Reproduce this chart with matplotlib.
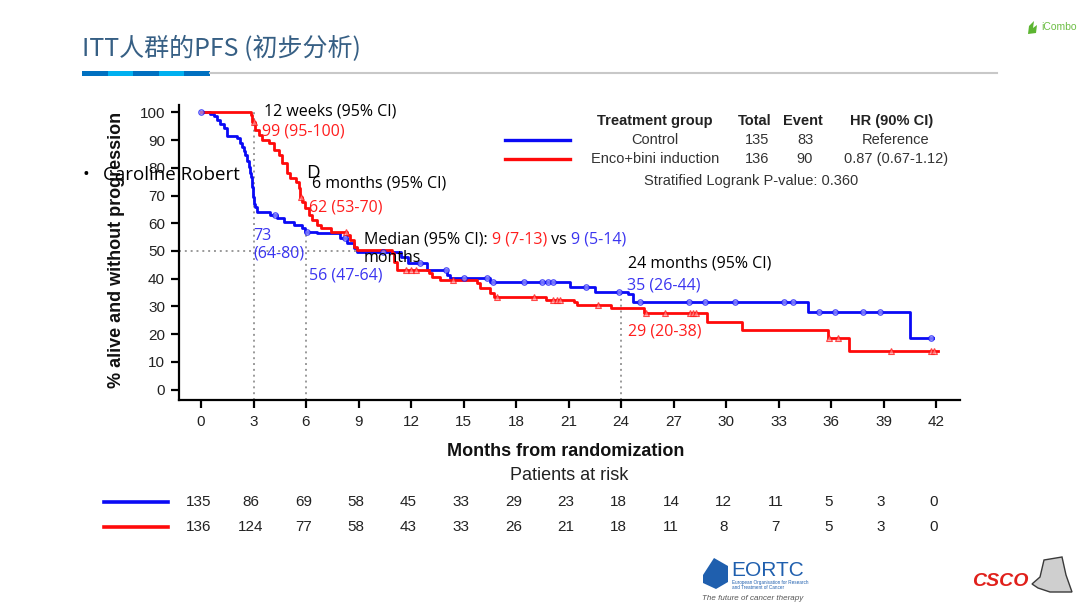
import numpy as np
import matplotlib
matplotlib.use('Agg')
import matplotlib.pyplot as plt
from matplotlib.transforms import blended_transform_factory
from matplotlib.patches import Rectangle, Polygon
from matplotlib.lines import Line2D

# ---------------- data ----------------
ctrl_t = [0, 0.3, 0.54, 0.75, 0.92, 1.1, 1.3, 1.5, 2.07, 2.2, 2.35, 2.45, 2.54, 2.65, 2.73, 2.8,
          2.86, 2.92, 2.97, 3.02, 3.1, 3.2, 3.97, 4.35, 4.73, 5.3, 5.78, 5.97, 6.64, 7.97, 8.35,
          8.73, 8.92, 11.4, 11.8, 12.9, 14.06, 14.25, 16.5, 21.1, 22.5, 24.4, 24.7, 34.7, 40.5, 41.8]
ctrl_s = [100, 100, 99.3, 98.5, 97.2, 95.9, 94.2, 91.5, 90.6, 89, 87.6, 86, 84.6, 82.5, 80.4, 78,
          76.8, 73, 69.6, 67, 66, 64.2, 63, 61.8, 60.6, 59.4, 58.2, 57, 56.4, 54.6, 52.8,
          51, 49.8, 48, 45.6, 43.2, 41.4, 40.2, 38.9, 37.1, 35.3, 34.4, 31.7, 28.1, 18.7, 18.7]

enco_t = [0, 2.83, 2.92, 3.11, 3.3, 3.5, 3.87, 4.16, 4.44, 4.64, 4.92, 5.11, 5.4, 5.59, 5.68, 5.78,
          5.97, 6.16, 6.35, 6.64, 6.83, 7.4, 8.35, 8.54, 8.73, 8.92, 10.9, 11.0, 11.2, 13.0, 13.2,
          13.68, 15.77, 15.96, 16.53, 16.72, 19.7, 21.3, 21.5, 23.4, 25.3, 28.9, 30.9, 35.8, 37.0, 42.1]
enco_s = [100, 99, 96.6, 93.6, 91.8, 90, 88.8, 86.4, 84.6, 81.6, 78, 76.2, 75, 72.6, 69.6, 67.8,
          65.4, 63, 61.2, 59.4, 58.2, 57, 55.8, 54, 51.6, 50.4, 49.2, 46, 43.2, 42, 40.7,
          39.5, 38.4, 36.5, 34.7, 33.5, 32.3, 31.7, 30.5, 29.3, 27.5, 24.3, 21.5, 18.5, 14, 14]

ctrl_censor = [0, 4.2, 6.05, 8.2, 10.4, 12.5, 14.0, 15.0, 16.35, 16.7, 18.45, 19.5, 19.8, 20.1,
               22.0, 23.9, 25.1, 27.9, 28.8, 30.5, 33.3, 33.8, 35.3, 36.2, 37.8, 38.8, 41.7]
enco_censor = [3.0, 5.7, 8.3, 11.7, 12.0, 12.3, 14.4, 16.9, 19.0, 20.1, 20.35, 20.5, 22.7, 25.4,
               26.5, 27.95, 28.1, 28.3, 35.9, 36.4, 39.4, 41.7, 41.9]

month_ticks = list(range(0, 43, 3))
pct_ticks = list(range(0, 101, 10))
risk_ctrl = [135, 86, 69, 58, 45, 33, 29, 23, 18, 14, 12, 11, 5, 3, 0]
risk_enco = [136, 124, 77, 58, 43, 33, 26, 21, 18, 11, 8, 7, 5, 3, 0]

groups = ['Control', 'Enco+bini induction']
totals = ['135', '136']
events = ['83', '90']
hrs = ['Reference', '0.87 (0.67-1.12)']

landmarks = [3, 6, 24]
landmark_top = [100, 57, 35]
median_months = 9

BLUE = '#0a0af5'
RED = '#ff0a0a'
TBLUE = '#3b35f0'
TRED = '#ff1e1e'

# ---------------- figure ----------------
W, H = 1080, 608
fig = plt.figure(figsize=(W / 100, H / 100), dpi=100)
fig.patch.set_facecolor('white')


def fx(px):
    return px / W


def fy(py):
    return 1 - py / H


CJK = ['Noto Sans CJK SC', 'DejaVu Sans']
ARIAL = ['Liberation Sans', 'DejaVu Sans']
OPEN = ['Open Sans', 'DejaVu Sans']

# ---- slide header ----
fig.text(fx(82), fy(49), 'ITT人群的PFS (初步分析)', fontsize=18, color='#365f84',
         family=CJK, va='center', ha='left')
seg_cols = ['#0070c0', '#00b0f0', '#0070c0', '#00b0f0', '#0070c0']
seg_w = (210 - 82) / 5
for i, c in enumerate(seg_cols):
    fig.add_artist(Rectangle((fx(82 + i * seg_w), fy(76)), seg_w / W, 5 / H,
                             transform=fig.transFigure, color=c, lw=0))
fig.add_artist(Line2D([fx(210), fx(997)], [fy(72.5), fy(72.5)], color='#c8c8c8', lw=1.5,
                      transform=fig.transFigure))
# iCombo logo (approximation)
fig.add_artist(Polygon([[fx(1028), fy(34)], [fx(1029), fy(26)], [fx(1034), fy(21)],
                        [fx(1033), fy(28)], [fx(1037), fy(25)], [fx(1036), fy(33)]],
                       closed=True, transform=fig.transFigure, color='#5cb531', lw=0))
fig.text(fx(1041), fy(27), 'iCombo', fontsize=7.5, color='#6dbe45', family=ARIAL,
         va='center', ha='left')

# ---- axes ----
ax = fig.add_axes([fx(179), fy(400), (960 - 179) / W, (400 - 105) / H])
px_per_month = (936 - 201) / 42
px_per_pct = (389.7 - 112.3) / 100
x0 = (179 - 201) / px_per_month
x1 = x0 + (960 - 179) / px_per_month
y0 = -(400 - 389.7) / px_per_pct
y1 = y0 + (400 - 105) / px_per_pct
ax.set_xlim(x0, x1)
ax.set_ylim(y0, y1)

for s in ['top', 'right']:
    ax.spines[s].set_visible(False)
for s in ['left', 'bottom']:
    ax.spines[s].set_linewidth(1.6)
    ax.spines[s].set_color('black')

ax.set_xticks(month_ticks)
ax.set_xticklabels([str(m) for m in month_ticks], fontsize=11, family=ARIAL, color='#222222')
ax.set_yticks(pct_ticks)
ax.set_yticklabels([str(p) for p in pct_ticks], fontsize=11, family=ARIAL, color='#222222')
ax.tick_params(axis='both', direction='out', length=6, width=1.6, color='black')
ax.tick_params(axis='x', pad=5)
ax.tick_params(axis='y', pad=4)

# landmark lines
dot_kw = dict(color='#9a9a9a', lw=1.4, ls=(0, (1, 2)), zorder=1)
for lm, top in zip(landmarks, landmark_top):
    ax.plot([lm, lm], [y0, top], **dot_kw)
ax.plot([x0, median_months], [50, 50], **dot_kw)

# curves
ax.step(ctrl_t, ctrl_s, where='post', color=BLUE, lw=2.0, zorder=3)
ax.step(enco_t, enco_s, where='post', color=RED, lw=2.0, zorder=4)


def surv_at(t_arr, s_arr, x):
    t_arr = np.asarray(t_arr)
    s_arr = np.asarray(s_arr)
    idx = np.searchsorted(t_arr, x, side='right') - 1
    return s_arr[np.clip(idx, 0, len(s_arr) - 1)]


ax.plot(ctrl_censor, surv_at(ctrl_t, ctrl_s, ctrl_censor), ls='none', marker='o', ms=4,
        mfc='#9a9aff', mec=BLUE, mew=0.8, alpha=0.7, zorder=5)
ax.plot(enco_censor, surv_at(enco_t, enco_s, enco_censor), ls='none', marker='^', ms=4,
        mfc='#ff9a9a', mec=RED, mew=0.8, alpha=0.7, zorder=5)

# axis labels
fig.text(fx(117), fy(250), '% alive and without progression', rotation=90, fontsize=13,
         fontweight='bold', family=ARIAL, color='#111111', ha='center', va='center')
fig.text(fx(566), fy(451), 'Months from randomization', fontsize=13, fontweight='bold',
         family=ARIAL, color='#111111', ha='center', va='center')
fig.text(fx(569), fy(476), 'Patients at risk', fontsize=13, family=ARIAL, color='#222222',
         ha='center', va='center')

# risk table
tr = blended_transform_factory(ax.transData, fig.transFigure)
for m, a, b in zip(month_ticks, risk_ctrl, risk_enco):
    ax.text(m - 0.15, fy(502), str(a), transform=tr, ha='center', va='center', fontsize=11,
            family=ARIAL, color='#222222', clip_on=False)
    ax.text(m - 0.15, fy(527), str(b), transform=tr, ha='center', va='center', fontsize=11,
            family=ARIAL, color='#222222', clip_on=False)
fig.add_artist(Line2D([fx(104), fx(168)], [fy(502), fy(502)], color=BLUE, lw=2.6,
                      transform=fig.transFigure))
fig.add_artist(Line2D([fx(104), fx(168)], [fy(527), fy(527)], color=RED, lw=2.6,
                      transform=fig.transFigure))

# legend table
TC = '#333333'
hdr = dict(fontsize=10.5, fontweight='bold', family=ARIAL, color='#222222', ha='center',
           va='center')
fig.text(fx(655), fy(121), 'Treatment group', **hdr)
fig.text(fx(755), fy(121), 'Total', **hdr)
fig.text(fx(803), fy(121), 'Event', **hdr)
fig.text(fx(892), fy(121), 'HR (90% CI)', **hdr)
cell = dict(fontsize=10.5, family=ARIAL, color=TC, ha='center', va='center')
for i, (g, t, e, h, col) in enumerate(zip(groups, totals, events, hrs, [BLUE, RED])):
    yy = 140 + 19 * i
    fig.add_artist(Line2D([fx(505), fx(570)], [fy(yy), fy(yy)], color=col, lw=2.4,
                          transform=fig.transFigure))
    fig.text(fx(655), fy(yy), g, **cell)
    fig.text(fx(757), fy(yy), t, **cell)
    fig.text(fx(805), fy(yy), e, **cell)
    fig.text(fx(896), fy(yy), h, **cell)
fig.text(fx(751), fy(181), 'Stratified Logrank P-value: 0.360', **cell)

# annotations
an = dict(fontsize=11.5, family=OPEN, va='center', ha='left')
fig.text(fx(264), fy(111), '12 weeks (95% CI)', color='black', **an)
fig.text(fx(262), fy(131), '99 (95-100)', color=TRED, **an)
fig.text(fx(312), fy(184), '6 months (95% CI)', color='black', **an)
fig.text(fx(309), fy(207), '62 (53-70)', color=TRED, **an)
fig.text(fx(253), fy(236), '73', color=TBLUE, **an)
fig.text(fx(253), fy(254), '(64-80)', color=TBLUE, **an)
fig.text(fx(309), fy(275), '56 (47-64)', color=TBLUE, **an)

renderer = fig.canvas.get_renderer()
xcur = 364
for piece, col in [('Median (95% CI): ', 'black'), ('9 (7-13)', TRED), (' vs ', 'black'),
                   ('9 (5-14)', TBLUE)]:
    t = fig.text(fx(xcur), fy(240), piece, color=col, **an)
    bb = t.get_window_extent(renderer=renderer)
    xcur = xcur + bb.width
fig.text(fx(364), fy(258), 'months', color='black', **an)
fig.text(fx(628), fy(264), '24 months (95% CI)', color='black', **an)
fig.text(fx(627), fy(285), '35 (26-44)', color=TBLUE, **an)
fig.text(fx(628), fy(332), '29 (20-38)', color=TRED, **an)

# overlapping slide bullet text
fig.text(fx(82), fy(175), '\u2022', fontsize=13, family=OPEN, color='black', va='center',
         ha='left', zorder=10)
fig.text(fx(103), fy(175), 'Caroline Robert', fontsize=13.5, family=OPEN, color='black',
         va='center', ha='left', zorder=10)
fig.text(fx(306), fy(173), 'D', fontsize=13.5, family=OPEN, color='black', va='center',
         ha='left', zorder=10)

# bottom logos (approximation)
fig.add_artist(Polygon([[fx(703), fy(575)], [fx(714), fy(558)], [fx(728), fy(566)],
                        [fx(728), fy(582)], [fx(716), fy(589)], [fx(703), fy(583)]],
                       closed=True, transform=fig.transFigure, color='#1f5fae', lw=0))
fig.text(fx(731), fy(570), 'EORTC', fontsize=15, family=ARIAL,
         color='#1f5fae', va='center', ha='left')
fig.text(fx(732), fy(585), 'European Organisation for Research\nand Treatment of Cancer',
         fontsize=3.3, family=ARIAL, color='#1f5fae', va='center', ha='left', linespacing=1.1)
fig.text(fx(702), fy(599), 'The future of cancer therapy', fontsize=5.8, style='italic',
         family=ARIAL, color='#555555', va='center', ha='left')
fig.text(fx(972), fy(582), 'CSCO', fontsize=14, fontweight='bold', style='italic',
         family=ARIAL, color='#e0201b', va='center', ha='left')
fig.add_artist(Polygon([[fx(1032), fy(584)], [fx(1040), fy(577)], [fx(1044), fy(560)],
                        [fx(1062), fy(557)], [fx(1066), fy(575)], [fx(1072), fy(592)],
                        [fx(1050), fy(592)], [fx(1038), fy(588)]],
                       closed=True, transform=fig.transFigure, facecolor='#cfcfcf',
                       edgecolor='#3a3a3a', lw=1.0))

fig.savefig('out.png', dpi=100, facecolor='white')
